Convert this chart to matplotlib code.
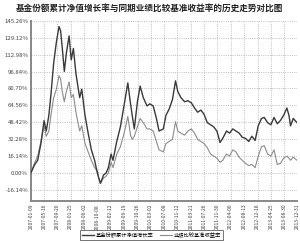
import matplotlib
matplotlib.use("Agg")
import matplotlib.pyplot as plt
import matplotlib.dates as mdates
import pandas as pd

plt.rcParams['font.family'] = ['Noto Sans CJK SC', 'DejaVu Sans']

# ===== DATA =====
dates = [
    "2007-01-09", "2007-02-15", "2007-03-15", "2007-04-15", "2007-05-15", "2007-06-05",
    "2007-06-30", "2007-07-20", "2007-08-15", "2007-09-10", "2007-10-05", "2007-10-20",
    "2007-11-05", "2007-11-25", "2007-12-15", "2008-01-10", "2008-01-30", "2008-02-20",
    "2008-03-15", "2008-04-20", "2008-05-10", "2008-06-10", "2008-07-10", "2008-08-10",
    "2008-09-10", "2008-09-25", "2008-10-20", "2008-11-05", "2008-12-05", "2008-12-30",
    "2009-01-20", "2009-02-15", "2009-03-05", "2009-04-10", "2009-05-15", "2009-06-20",
    "2009-07-25", "2009-08-20", "2009-09-05", "2009-09-25", "2009-10-25", "2009-11-20",
    "2009-12-20", "2010-01-25", "2010-02-20", "2010-03-25", "2010-04-25", "2010-05-20",
    "2010-06-30", "2010-07-25", "2010-08-25", "2010-09-25", "2010-10-25", "2010-11-15",
    "2010-12-15", "2011-01-20", "2011-02-20", "2011-03-25", "2011-04-25", "2011-05-25",
    "2011-06-25", "2011-07-25", "2011-08-25", "2011-09-25", "2011-10-25", "2011-11-25",
    "2011-12-25", "2012-01-20", "2012-02-25", "2012-03-25", "2012-04-25", "2012-05-25",
    "2012-06-25", "2012-07-25", "2012-08-25", "2012-09-25", "2012-10-25", "2012-11-25",
    "2012-12-25", "2013-01-25", "2013-02-20", "2013-03-25", "2013-04-25", "2013-05-25",
    "2013-06-25", "2013-07-25", "2013-08-25", "2013-09-25", "2013-10-15", "2013-10-30",
    "2013-11-25", "2013-12-31",
]

fund = [
    0, 8, 12, 28, 50, 40,
    55, 75, 105, 125, 140, 136,
    120, 97, 115, 131, 108, 119,
    95, 72, 80, 55, 38, 22,
    12, 5, -5, -10, -2, 0,
    5, 18, 12, 30, 44, 65,
    86, 66, 55, 42, 68, 83,
    72, 64, 66, 64, 52, 40,
    42, 55, 61, 70, 88, 78,
    72, 68, 69, 67, 62, 58,
    60, 56, 48, 46, 44, 40,
    29, 33, 40, 38, 42, 40,
    38, 34, 33, 30, 35, 31,
    45, 52, 53, 48, 46, 53,
    47, 50, 55, 62, 55, 45,
    52, 48,
]

bench = [
    0, 10, 16, 30, 45, 35,
    40, 55, 72, 80, 93, 90,
    78, 68, 78, 87, 72, 75,
    58, 40, 45, 28, 20, 12,
    5, 3, -5, -10, -5, -3,
    0, 10, 5, 18, 25, 38,
    54, 36, 32, 35, 44, 52,
    48, 42, 42, 40, 30, 22,
    20, 28, 30, 32, 49, 40,
    38, 36, 40, 42, 38, 32,
    30, 28, 24, 18, 16, 14,
    10, 12, 18, 16, 22, 20,
    15, 12, 9, 7, 8, 5,
    16, 25, 26, 18, 16, 22,
    8, 9, 14, 16, 14, 12,
    15, 12,
]

tick_labels = [
    "2007-01-09", "2007-05-16", "2007-09-20", "2008-01-25", "2008-06-02",
    "2008-10-08", "2009-02-12", "2009-06-19", "2009-10-26", "2010-03-02",
    "2010-07-08", "2010-11-12", "2011-03-21", "2011-07-26", "2011-11-30",
    "2012-04-06", "2012-08-13", "2012-12-18", "2013-04-25", "2013-08-30",
    "2013-12-31",
]

y_ticks = [-16.14, 0.00, 16.14, 32.28, 48.42, 64.56, 80.70, 96.84, 112.98, 129.12, 145.26]

series_names = ["基金份额累计净值增长率", "业绩比较基准收益率"]
title = "基金份额累计净值增长率与同期业绩比较基准收益率的历史走势对比图"

# ===== DRAW =====
x = pd.to_datetime(dates)
ticks = pd.to_datetime(tick_labels)

fig = plt.figure(figsize=(3.0, 2.44), dpi=100)
ax = fig.add_axes([0.103, 0.176, 0.887, 0.738])

ax.plot(x, fund, color="#3a3a3a", lw=1.0, label=series_names[0], zorder=3)
ax.plot(x, bench, color="#8c8c8c", lw=0.8, label=series_names[1], zorder=2)

ax.set_xlim(ticks[0], ticks[-1])
ax.set_ylim(-27, 145.26)

ax.set_yticks(y_ticks)
ax.set_yticklabels([f"{v:.2f}%" for v in y_ticks], fontsize=4.3, color="#444")
ax.set_xticks(ticks)
ax.set_xticklabels(tick_labels, rotation=90, fontsize=3.6, color="#444")
ax.tick_params(length=0, pad=2)

ax.grid(True, color="#aaa", linestyle=":", linewidth=0.6)

for s in ["top", "right"]:
    ax.spines[s].set_visible(False)
for s in ["left", "bottom"]:
    ax.spines[s].set_color("#888")
    ax.spines[s].set_linewidth(1.4)

fig.text(0.5, 0.965, title, ha="center", va="center", fontsize=6.2, fontweight="bold", color="#222")

leg = fig.legend(loc="center", bbox_to_anchor=(0.505, 0.036), ncol=2, fontsize=3.8,
                 frameon=True, fancybox=False, handlelength=2.2, columnspacing=1.2,
                 borderpad=0.4, handletextpad=0.4)
leg.get_frame().set_edgecolor("#333")
leg.get_frame().set_linewidth(0.6)

fig.savefig("out.png", dpi=100)
